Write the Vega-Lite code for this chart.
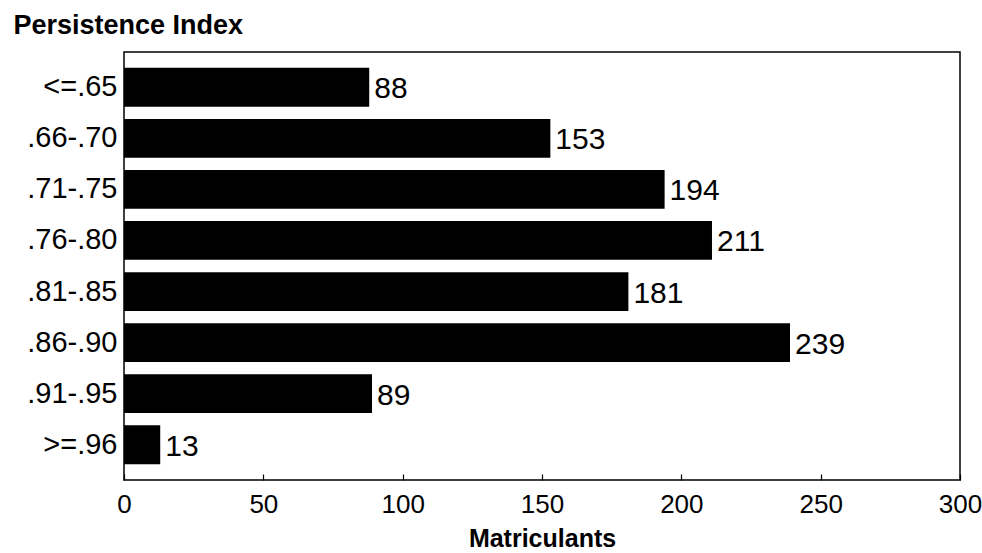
{
  "$schema": "https://vega.github.io/schema/vega-lite/v6.json",
  "autosize": {"type": "none"},
  "width": 836,
  "height": 428,
  "padding": {"left": 124, "top": 52, "right": 22, "bottom": 73},
  "background": "white",
  "config": {
    "font": "Liberation Sans",
    "view": {"stroke": "black", "strokeWidth": 1.5}
  },
  "data": {
    "values": [
      {"index": "<=.65", "matriculants": 88},
      {"index": ".66-.70", "matriculants": 153},
      {"index": ".71-.75", "matriculants": 194},
      {"index": ".76-.80", "matriculants": 211},
      {"index": ".81-.85", "matriculants": 181},
      {"index": ".86-.90", "matriculants": 239},
      {"index": ".91-.95", "matriculants": 89},
      {"index": ">=.96", "matriculants": 13}
    ]
  },
  "encoding": {
    "y": {
      "field": "index",
      "type": "nominal",
      "sort": null,
      "scale": {"paddingInner": 0.24, "paddingOuter": 0.31},
      "axis": {
        "title": "Persistence Index",
        "titleAngle": 0,
        "titleAlign": "left",
        "titleBaseline": "alphabetic",
        "titleX": -111,
        "titleY": -19,
        "titleFont": "Liberation Sans",
        "titleFontSize": 27,
        "titleFontWeight": "bold",
        "titleColor": "black",
        "domain": false,
        "ticks": false,
        "labelFontSize": 29,
        "labelColor": "black",
        "labelPadding": 7
      }
    },
    "x": {
      "field": "matriculants",
      "type": "quantitative",
      "scale": {"domain": [0, 300], "nice": false},
      "axis": {
        "title": "Matriculants",
        "titleFontSize": 25,
        "titleFontWeight": "bold",
        "titleColor": "black",
        "titlePadding": 9,
        "values": [0, 50, 100, 150, 200, 250, 300],
        "grid": false,
        "domain": false,
        "tickColor": "black",
        "tickSize": -6,
        "tickWidth": 1.2,
        "labelFontSize": 26,
        "labelColor": "black",
        "labelPadding": 17,
        "labelFlush": false
      }
    }
  },
  "layer": [
    {"mark": {"type": "bar", "color": "black"}},
    {
      "mark": {
        "type": "text",
        "align": "left",
        "baseline": "middle",
        "dx": 5,
        "dy": 2,
        "fontSize": 30,
        "color": "black"
      },
      "encoding": {"text": {"field": "matriculants", "type": "quantitative"}}
    }
  ]
}
